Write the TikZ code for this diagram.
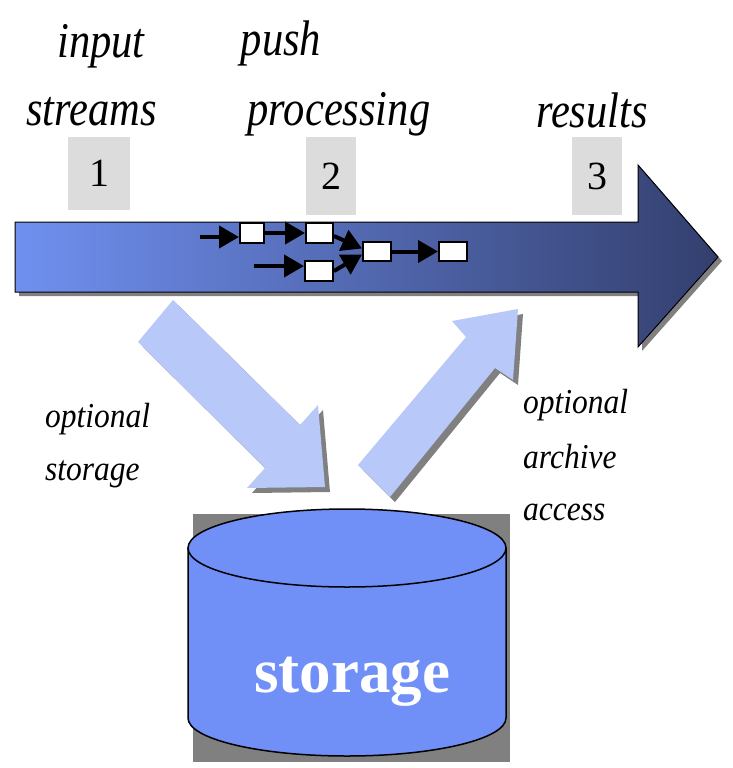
\documentclass[tikz,border=0pt]{standalone}
\usepackage{fontspec}
\setmainfont{Liberation Serif}
\usetikzlibrary{arrows.meta}
\definecolor{arrowL}{HTML}{7090F0}
\definecolor{arrowR}{HTML}{333F6E}
\definecolor{pale}{HTML}{B8C8F8}
\definecolor{numbg}{HTML}{DCDCDC}
\definecolor{shadowgray}{HTML}{808080}
\definecolor{cyl}{HTML}{7090F8}
\newcommand{\narrowtxt}[2]{\scalebox{#1}[1]{#2}}
\begin{document}
\begin{tikzpicture}[x=1pt,y=-1pt,
  toplabel/.style={font=\fontsize{50}{50}\selectfont\itshape, inner sep=0, anchor=base},
  sidelabel/.style={font=\fontsize{35}{35}\selectfont\itshape, inner sep=0, anchor=base west},
  numbox/.style={fill=numbg, inner sep=0, font=\fontsize{40}{40}\selectfont},
  procbox/.style={draw=black, line width=2pt, fill=white, inner sep=0},
  flow/.style={line width=4pt, -{Triangle[length=20pt,width=22pt]}},
  shadowfill/.style={fill=shadowgray, draw=none},
  palearrow/.style={fill=pale, draw=none}]
\useasboundingbox (0,0) rectangle (732,768);
\fill[white] (0,0) rectangle (732,768);

% top labels
\node[toplabel] (tin) at (101,57) {\narrowtxt{0.85}{input}};
\node[toplabel] (tstr) at (91.5,125) {\narrowtxt{0.85}{streams}};
\node[toplabel] (tpush) at (281,56) {\narrowtxt{0.85}{push}};
\node[toplabel] (tproc) at (339,125) {\narrowtxt{0.85}{processing}};
\node[toplabel] (tres) at (592,127) {\narrowtxt{0.85}{results}};

% number boxes
\node[numbox, minimum width=62pt, minimum height=73pt] (n1) at (99,173.5) {1};
\node[numbox, minimum width=50pt, minimum height=78pt] (n2) at (331,176) {2};
\node[numbox, minimum width=50pt, minimum height=78pt] (n3) at (597,176) {3};

% big arrow shadow + arrow
\fill[shadowgray] (19,226) -- (642,226) -- (642,169) -- (722,261) -- (642,351) -- (642,296) -- (19,296) -- cycle;
\shadedraw[left color=arrowL, right color=arrowR, draw=black, line width=1pt]
  (15,222) -- (638,222) -- (638,165) -- (718,257) -- (638,347) -- (638,292) -- (15,292) -- cycle;

% processing boxes
\node[procbox, minimum width=24pt, minimum height=20pt] (a) at (252,233) {};
\node[procbox, minimum width=27pt, minimum height=20pt] (b) at (319.5,233) {};
\node[procbox, minimum width=28pt, minimum height=19pt] (c) at (377,251.5) {};
\node[procbox, minimum width=28pt, minimum height=19pt] (d) at (453,251.5) {};
\node[procbox, minimum width=28pt, minimum height=20pt] (e) at (319,271) {};
\coordinate (s1) at (200,237);
\coordinate (s2) at (254,266);
\draw[flow] (s1) -- (a.west |- s1);
\draw[flow] (a.east) -- (b.west);
\draw[flow] ([yshift=-3pt]b.east) -- ([yshift=3pt]c.west);
\draw[flow] (e.east) -- ([yshift=-3pt]c.west);
\draw[flow] (c.east) -- (d.west);
\draw[flow] (s2) -- (e.west |- s2);

% down pale arrow
\begin{scope}[shift={(5,5)}]
\fill[shadowfill] (173,300) -- (300,425) -- (318,405) -- (325,487) -- (247,488) -- (265,468) -- (138,342) -- cycle;
\end{scope}
\fill[palearrow] (173,300) -- (300,425) -- (318,405) -- (325,487) -- (247,488) -- (265,468) -- (138,342) -- cycle;

% up pale arrow
\begin{scope}[shift={(5,5)}]
\fill[shadowfill] (358,465) -- (466,337) -- (452,321) -- (518,309) -- (513,380) -- (495,368) -- (390,497) -- cycle;
\end{scope}
\fill[palearrow] (358,465) -- (466,337) -- (452,321) -- (518,309) -- (513,380) -- (495,368) -- (390,497) -- cycle;

% side labels
\node[sidelabel] (lo1) at (45,427) {\narrowtxt{0.9}{optional}};
\node[sidelabel] (lo2) at (45,480) {\narrowtxt{0.9}{storage}};
\node[sidelabel] (ro1) at (523,413) {\narrowtxt{0.9}{optional}};
\node[sidelabel] (ro2) at (523,468) {\narrowtxt{0.9}{archive}};
\node[sidelabel] (ro3) at (523,520) {\narrowtxt{0.9}{access}};

% storage cylinder
\fill[shadowgray] (193,514) rectangle (510,762);
\filldraw[fill=cyl, draw=black, line width=1.5pt]
  (188,548) -- (188,718) arc[start angle=180, end angle=360, x radius=159pt, y radius=38pt] -- (506,548) -- cycle;
\filldraw[fill=cyl, draw=black, line width=1.5pt] (347,548) ellipse [x radius=159pt, y radius=39pt];
\node[font=\fontsize{63}{63}\selectfont\bfseries, text=white, inner sep=0, anchor=base] (st) at (352,692) {storage};
\end{tikzpicture}
\end{document}
